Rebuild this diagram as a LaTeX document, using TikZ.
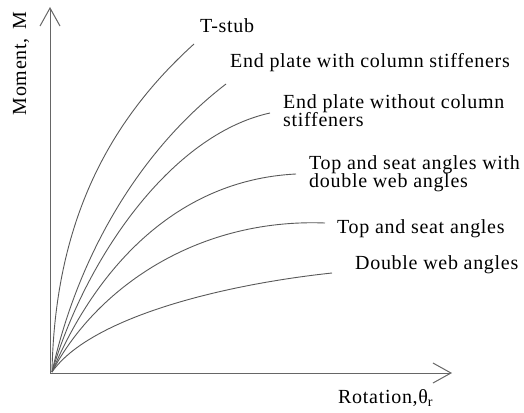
\documentclass[tikz,border=0pt]{standalone}
\usepackage{fontspec}
\setmainfont{Liberation Serif}[LetterSpace=3.5]
\usetikzlibrary{arrows.meta}
\newcommand{\lblfont}{\fontsize{20}{18}\selectfont\lineskiplimit=-50pt\relax}
\begin{document}
\begin{tikzpicture}[x=1pt,y=-1pt,
  curve/.style={draw=black!65, line width=0.9pt},
  axis/.style={draw=black!60, line width=1pt, -{Straight Barb[length=18pt,width=20pt,line width=1pt]}},
  lbl/.style={inner sep=0pt, font=\lblfont, align=left}]
\useasboundingbox (0,0) rectangle (524,412);
\coordinate (O) at (50,373);
\coordinate (ytip) at (50,7);
\coordinate (xtip) at (452,373);
\coordinate (S) at (52,372);
\draw[axis] (O) -- (ytip);
\draw[axis] (O) -- (xtip);
% curves
\draw[curve] (S) .. controls (55,220) and (110,120) .. (194,44);
\draw[curve] (S) .. controls (78,255) and (140,150) .. (226,84);
\draw[curve] (S) .. controls (85,260) and (170,135) .. (270,113);
\draw[curve] (S) .. controls (95,270) and (175,180) .. (296,174);
\draw[curve] (S) .. controls (95,290) and (195,218) .. (325,223);
\draw[curve] (S) .. controls (90,318) and (220,285) .. (332,273);
% labels
\node[lbl, anchor=base west] (tstub) at (200,33) {T-stub};
\node[lbl, anchor=base west] (epw) at (230,67) {End plate with column stiffeners};
\node[lbl, anchor=north west] (epwo) at (283,94.3) {End plate without column\\stiffeners};
\node[lbl, anchor=north west] (tsdw) at (309,155.3) {Top and seat angles with\\double web angles};
\node[lbl, anchor=base west] (ts) at (337,233) {Top and seat angles};
\node[lbl, anchor=base west] (dw) at (355,269) {Double web angles};
\node[lbl, anchor=base west] (xlab) at (338,403) {Rotation,θ\textsubscript{r}};
\node[lbl, rotate=90, anchor=base] (ylab) at (26,63.5) {Moment,\ \,M};
\end{tikzpicture}
\end{document}
